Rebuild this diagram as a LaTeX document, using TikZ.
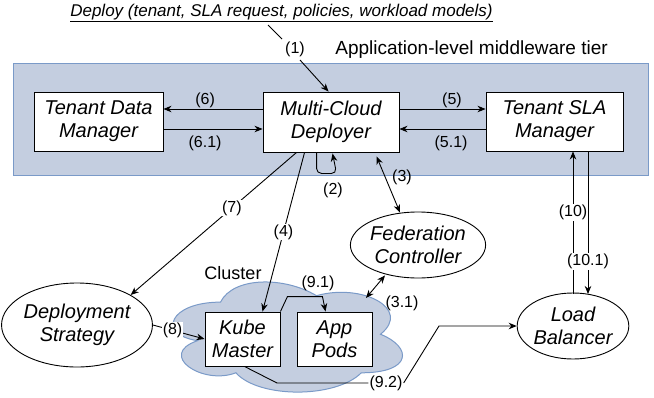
\documentclass[tikz,border=0pt]{standalone}
\usepackage{fontspec}
\setmainfont{Liberation Sans}
\usetikzlibrary{arrows.meta,calc,shapes.geometric}
\definecolor{tierfill}{RGB}{196,206,224}
\definecolor{tierline}{RGB}{122,154,200}
\tikzset{
  box/.style={draw, fill=white, line width=0.9pt, align=center, inner sep=0pt,
    font=\fontsize{20}{23}\selectfont\itshape},
  oval/.style={ellipse, draw, fill=white, line width=0.9pt, align=center, inner sep=0pt,
    font=\fontsize{20}{23}\selectfont\itshape},
  tip/.tip={Stealth[length=8pt,width=6.5pt,inset=2.5pt]},
  arr/.style={line width=0.9pt, -tip},
  dbl/.style={line width=0.9pt, tip-tip},
  plain/.style={line width=0.9pt},
  lbl/.style={fill=white, inner sep=1pt, font=\fontsize{16}{18}\selectfont},
  lbltext/.style={inner sep=0pt, font=\fontsize{16}{18}\selectfont},
  tier/.style={fill=tierfill, draw=tierline, line width=1pt},
}
\begin{document}
\begin{tikzpicture}[x=1pt,y=-1pt]
\useasboundingbox (0,0) rectangle (654,397);

% application-level middleware tier
\path[tier] (13,63) rectangle (648,175);
\node[anchor=east, inner sep=0pt, font=\fontsize{19}{22}\selectfont] (tiername) at (608,50) {Application-level middleware tier};

% deploy request
\node[inner sep=0pt, font=\fontsize{17}{20}\selectfont\itshape] (deploy) at (281.5,13)
  {\underline{Deploy (tenant, SLA request, policies, workload models)}};
\coordinate (dtail) at (268,25);

% middleware components
\node[box, minimum width=129pt, minimum height=59pt] (tdm) at (98.5,121.5) {Tenant Data\\Manager};
\node[box, minimum width=136pt, minimum height=60pt] (mcd) at (331,122) {Multi-Cloud\\Deployer};
\node[box, minimum width=137pt, minimum height=59pt] (tsm) at (554.5,121.5) {Tenant SLA\\Manager};

% cluster cloud
\begin{scope}[shift={(156.5,270)}, x=256pt, y=-128.5pt]
  \filldraw[tier] (0.25,0.25) .. controls (0.05,0.25) and (0,0.5) .. (0.16,0.55)
    .. controls (0,0.66) and (0.18,0.9) .. (0.31,0.8)
    .. controls (0.4,1) and (0.7,1) .. (0.8,0.8)
    .. controls (1,0.8) and (1,0.6) .. (0.875,0.5)
    .. controls (1,0.3) and (0.8,0.1) .. (0.625,0.2)
    .. controls (0.5,0.05) and (0.3,0.05) .. (0.25,0.25) -- cycle;
\end{scope}
\node[inner sep=0pt, font=\fontsize{18}{21}\selectfont] (cluster) at (233,273) {Cluster};
\node[box, minimum width=75pt, minimum height=54pt] (km) at (242.5,339) {Kube\\Master};
\node[box, minimum width=75pt, minimum height=54pt] (pods) at (334.5,339) {App\\Pods};

% other components
\node[oval, minimum width=120pt, minimum height=84pt] (ds) at (77,325) {Deployment\\Strategy};
\node[oval, minimum width=118pt, minimum height=66pt] (fc) at (418,245) {Federation\\Controller};
\node[oval, minimum width=110pt, minimum height=66pt] (lb) at (573,326) {Load\\Balancer};

% (1) deploy request
\node[lbltext] (l1) at (295,49) {(1)};
\draw[plain] (dtail) -- (282,39);
\draw[arr] (300,60) -- ($(mcd.north west)+(66,0)$);

% (6) / (6.1) tenant data manager
\draw[arr] (mcd.west |- 0,109) -- node[lbltext, pos=0.58, above=1pt] (l6) {(6)} (tdm.east |- 0,109);
\draw[arr] (tdm.east |- 0,129) -- node[lbltext, pos=0.42, below=6pt] (l61) {(6.1)} (mcd.west |- 0,129);

% (5) / (5.1) tenant SLA manager
\draw[arr] (mcd.east |- 0,109) -- node[lbltext, pos=0.61, above=1pt] (l5) {(5)} (tsm.west |- 0,109);
\draw[arr] (tsm.west |- 0,129) -- node[lbltext, pos=0.4, below=6pt] (l51) {(5.1)} (mcd.east |- 0,129);

% (2) self loop
\draw[arr, rounded corners=5pt] ($(mcd.south west)+(54,0)$) -- ++(0,21) -- ++(20,0) -- ($(mcd.south west)+(70,1)$);
\node[lbltext] (l2) at (333,190) {(2)};

% (3) federation controller
\draw[dbl] ($(mcd.south west)+(114,4)$) -- ($(fc.north)+(-18,1)$);
\node[lbltext] (l3) at (402,177) {(3)};

% (7) deployment strategy
\draw[arr] ($(mcd.south west)+(34,0)$) -- node[lbl, pos=0.39] (l7) {(7)} (ds.north east);

% (4) kube master
\draw[arr] ($(mcd.south west)+(42,0)$) -- node[lbl, pos=0.5] (l4) {(4)} ($(km.north)+(20,0)$);

% (8)
\draw[arr] (ds.east) -- node[lbl, pos=0.38] (l8) {(8)} (km.west);

% (9.1)
\draw[arr] (km.north east) -- ++(7,-15) -- ++(35,0) -- ($(pods.north west)+(29,0)$);
\node[lbltext] (l91) at (318,283) {(9.1)};

% (3.1)
\draw[dbl] (366,298) -- ($(fc.south)+(-33,-3)$);
\node[lbltext] (l31) at (402,303) {(3.1)};

% (9.2)
\node[lbl] (l92) at (386,383) {(9.2)};
\draw[plain] ($(km.south)+(2,0)$) -- (277,383) -- (l92.west);
\draw[arr] (l92.east) -- (439,326) -- (lb.west);

% (10) / (10.1)
\draw[arr] (lb.north |- 0,294) -- node[lbl, pos=0.57] (l10) {(10)} (tsm.south -| lb.north);
\draw[arr] ($(tsm.south -| lb.north)+(15,0)$) -- node[lbl, pos=0.77] (l101) {(10.1)} (588,294);

\end{tikzpicture}
\end{document}
